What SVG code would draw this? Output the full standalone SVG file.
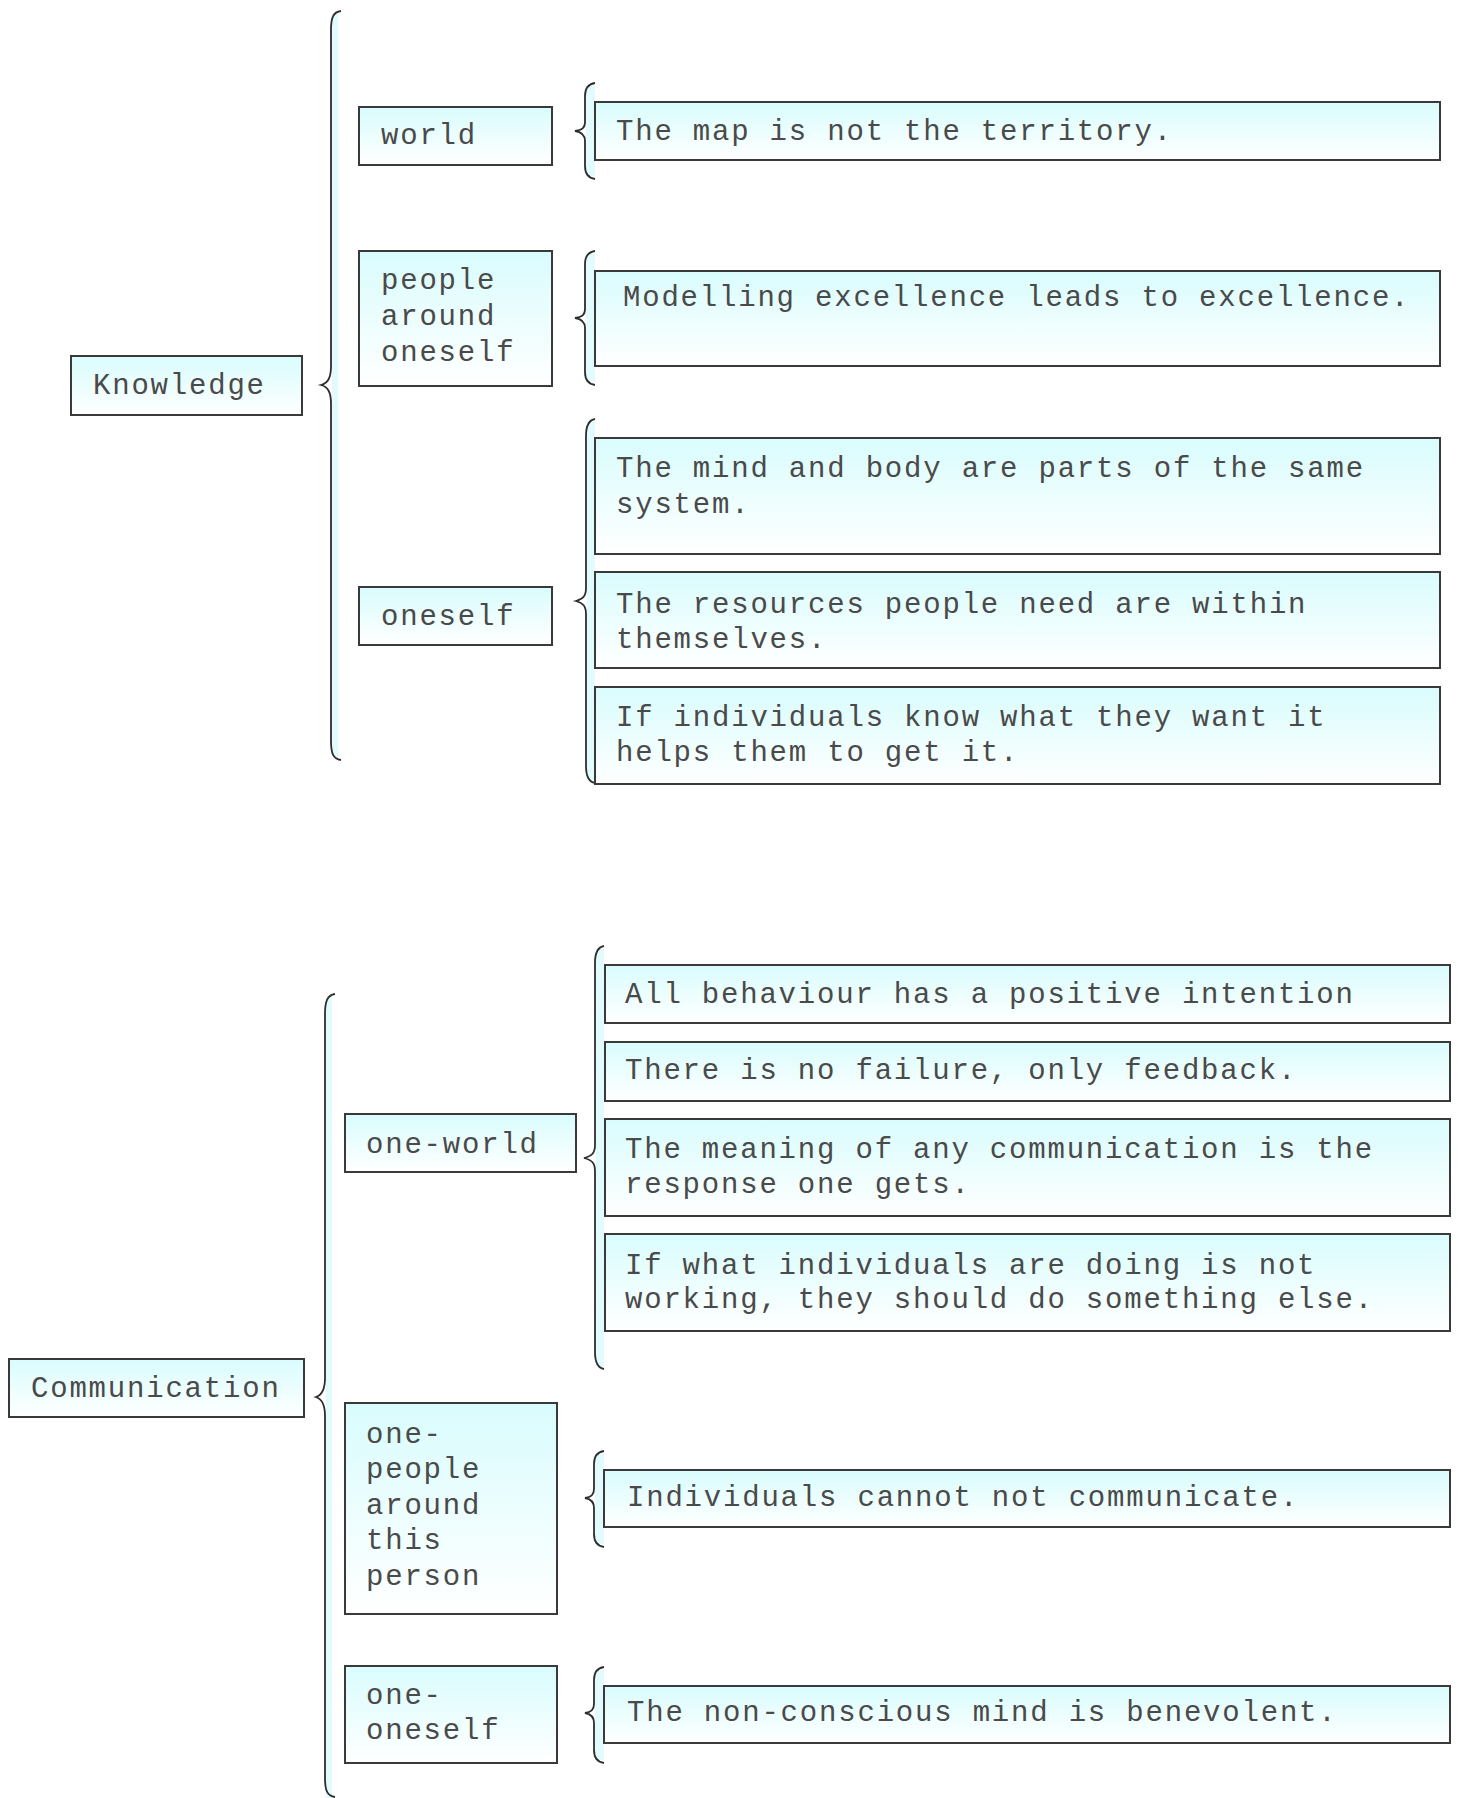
<svg xmlns="http://www.w3.org/2000/svg" width="1460" height="1798" viewBox="0 0 1460 1798">
  <defs>
    <linearGradient id="boxFill" x1="0" y1="0" x2="0" y2="1">
      <stop offset="0" stop-color="#d9fcfd"/>
      <stop offset="1" stop-color="#ffffff"/>
    </linearGradient>
  </defs>
  <style>
    .box { fill: url(#boxFill); stroke: #3a3a3a; stroke-width: 2; }
    .lbl { font-family: "Liberation Mono", "DejaVu Sans Mono", monospace; font-size: 29px; letter-spacing: 1.8px; fill: #4a4a4a; }
    .strip { fill: #e2fcfd; }
    .brace { fill: none; stroke: #2e2e2e; stroke-width: 1.8; }
  </style>
  <rect width="1460" height="1798" fill="#ffffff"/>

  <!-- braces joining each heading to its items -->
  <g id="connectors">
    <!-- Knowledge -->
    <rect class="strip" x="332" y="14" width="6" height="743"/>
    <path class="brace" d="M341 11 C333 12 331 18 331 30 L331 366 C331 378 328 383 321 385 C328 387 331 392 331 404 L331 741 C331 753 333 759 341 760"/>
    <!-- world -->
    <rect class="strip" x="586" y="86" width="9" height="90"/>
    <path class="brace" d="M595 83 C588 84 585 88 585 96 L585 122 C585 128 582 130 575 131 C582 132 585 135 585 141 L585 166 C585 174 588 178 595 179"/>
    <!-- people around oneself -->
    <rect class="strip" x="586" y="254" width="9" height="128"/>
    <path class="brace" d="M595 251 C588 252 585 256 585 264 L585 309 C585 315 582 317 575 318 C582 319 585 322 585 328 L585 372 C585 380 588 384 595 385"/>
    <!-- oneself -->
    <rect class="strip" x="587" y="422" width="8" height="358"/>
    <path class="brace" d="M595 419 C589 420 586 425 586 436 L586 588 C586 596 583 599 576 601 C583 603 586 606 586 614 L586 766 C586 777 589 782 595 783"/>

    <!-- Communication -->
    <rect class="strip" x="326" y="997" width="6" height="801"/>
    <path class="brace" d="M335 994 C327 995 325 1002 325 1014 L325 1378 C325 1390 322 1395 316 1397 C322 1399 325 1404 325 1416 L325 1778 C325 1790 327 1796 335 1797"/>
    <!-- one-world -->
    <rect class="strip" x="596" y="949" width="8" height="417"/>
    <path class="brace" d="M604 946 C598 947 595 952 595 963 L595 1145 C595 1153 592 1156 584 1158 C592 1160 595 1163 595 1171 L595 1352 C595 1363 598 1368 604 1369"/>
    <!-- one-people around this person -->
    <rect class="strip" x="595" y="1454" width="9" height="90"/>
    <path class="brace" d="M604 1451 C597 1452 594 1456 594 1464 L594 1489 C594 1495 591 1497 585 1498 C591 1499 594 1502 594 1508 L594 1534 C594 1542 597 1546 604 1547"/>
    <!-- one-oneself -->
    <rect class="strip" x="595" y="1670" width="9" height="90"/>
    <path class="brace" d="M604 1667 C597 1668 594 1672 594 1680 L594 1704 C594 1710 591 1712 585 1713 C591 1714 594 1717 594 1723 L594 1750 C594 1758 597 1762 604 1763"/>
  </g>

  <!-- Knowledge branch -->
  <g id="knowledge">
    <rect class="box" x="71" y="356" width="231" height="59"/>
    <text class="lbl" x="93" y="394">Knowledge</text>
  </g>
  <g id="k-world">
    <rect class="box" x="359" y="107" width="193" height="58"/>
    <text class="lbl" x="381" y="144">world</text>
  </g>
  <g id="k-map">
    <rect class="box" x="595" y="102" width="845" height="58"/>
    <text class="lbl" x="616" y="140">The map is not the territory.</text>
  </g>
  <g id="k-people">
    <rect class="box" x="359" y="251" width="193" height="135"/>
    <text class="lbl" x="381" y="289">people</text>
    <text class="lbl" x="381" y="325">around</text>
    <text class="lbl" x="381" y="361">oneself</text>
  </g>
  <g id="k-modelling">
    <rect class="box" x="595" y="271" width="845" height="95"/>
    <text class="lbl" x="623" y="306">Modelling excellence leads to excellence.</text>
  </g>
  <g id="k-oneself">
    <rect class="box" x="359" y="587" width="193" height="58"/>
    <text class="lbl" x="381" y="625">oneself</text>
  </g>
  <g id="k-mind-body">
    <rect class="box" x="595" y="438" width="845" height="116"/>
    <text class="lbl" x="616" y="477">The mind and body are parts of the same</text>
    <text class="lbl" x="616" y="513">system.</text>
  </g>
  <g id="k-resources">
    <rect class="box" x="595" y="572" width="845" height="96"/>
    <text class="lbl" x="616" y="613">The resources people need are within</text>
    <text class="lbl" x="616" y="648">themselves.</text>
  </g>
  <g id="k-know-want">
    <rect class="box" x="595" y="687" width="845" height="97"/>
    <text class="lbl" x="616" y="726">If individuals know what they want it</text>
    <text class="lbl" x="616" y="761">helps them to get it.</text>
  </g>

  <!-- Communication branch -->
  <g id="communication">
    <rect class="box" x="9" y="1359" width="295" height="58"/>
    <text class="lbl" x="31" y="1397">Communication</text>
  </g>
  <g id="c-one-world">
    <rect class="box" x="345" y="1114" width="231" height="58"/>
    <text class="lbl" x="366" y="1153">one-world</text>
  </g>
  <g id="c-intention">
    <rect class="box" x="605" y="965" width="845" height="58"/>
    <text class="lbl" x="625" y="1003">All behaviour has a positive intention</text>
  </g>
  <g id="c-feedback">
    <rect class="box" x="605" y="1042" width="845" height="59"/>
    <text class="lbl" x="625" y="1079">There is no failure, only feedback.</text>
  </g>
  <g id="c-meaning">
    <rect class="box" x="605" y="1119" width="845" height="97"/>
    <text class="lbl" x="625" y="1158">The meaning of any communication is the</text>
    <text class="lbl" x="625" y="1193">response one gets.</text>
  </g>
  <g id="c-something-else">
    <rect class="box" x="605" y="1234" width="845" height="97"/>
    <text class="lbl" x="625" y="1274">If what individuals are doing is not</text>
    <text class="lbl" x="625" y="1308">working, they should do something else.</text>
  </g>
  <g id="c-one-people">
    <rect class="box" x="345" y="1403" width="212" height="211"/>
    <text class="lbl" x="366" y="1443">one-</text>
    <text class="lbl" x="366" y="1478">people</text>
    <text class="lbl" x="366" y="1514">around</text>
    <text class="lbl" x="366" y="1549">this</text>
    <text class="lbl" x="366" y="1585">person</text>
  </g>
  <g id="c-communicate">
    <rect class="box" x="604" y="1470" width="846" height="57"/>
    <text class="lbl" x="627" y="1506">Individuals cannot not communicate.</text>
  </g>
  <g id="c-one-oneself">
    <rect class="box" x="345" y="1666" width="212" height="97"/>
    <text class="lbl" x="366" y="1704">one-</text>
    <text class="lbl" x="366" y="1739">oneself</text>
  </g>
  <g id="c-benevolent">
    <rect class="box" x="604" y="1686" width="846" height="57"/>
    <text class="lbl" x="627" y="1721">The non-conscious mind is benevolent.</text>
  </g>
</svg>
